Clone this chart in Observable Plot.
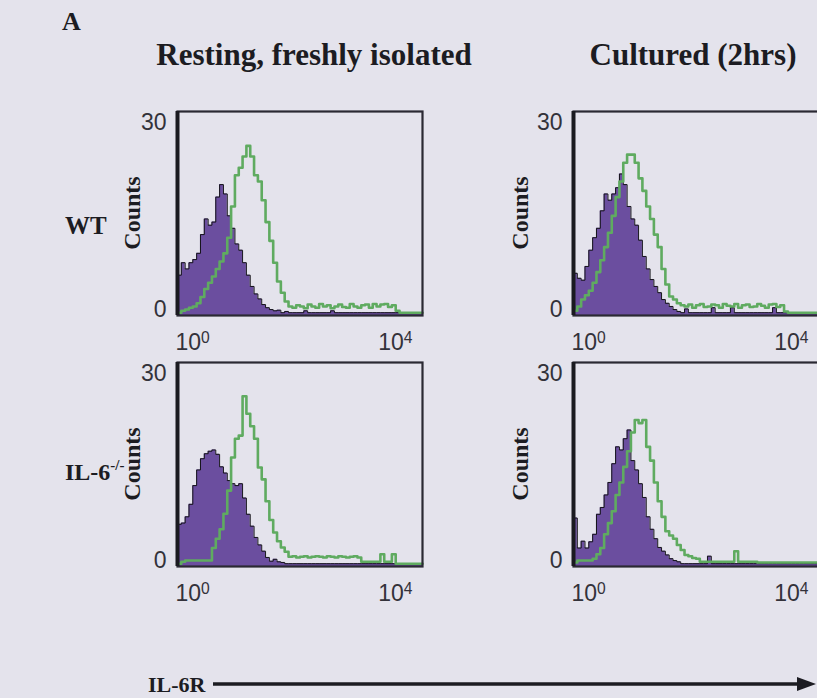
<!DOCTYPE html>
<html>
<head>
<meta charset="utf-8">
<script src="https://cdn.jsdelivr.net/npm/d3@7"></script>
<script src="https://cdn.jsdelivr.net/npm/@observablehq/plot@0.6"></script>
<style>
  body { margin: 0; background: #e4e3ec; }
  #chart { position: relative; width: 817px; height: 698px; overflow: hidden; background: #e4e3ec; }
  #chart .panel { position: absolute; }
  #overlay { position: absolute; left: 0; top: 0; pointer-events: none; }
  .serif { font-family: "Liberation Serif", "Times New Roman", serif; font-weight: bold; fill: #1c1c22; }
</style>
</head>
<body>
<div id="chart"></div>
<script>
// ---- data: counts per channel (64 channels over 4 log decades, 16 per decade) ----
const columnTitles = ["Resting, freshly isolated", "Cultured (2hrs)"];
const rowLabels = ["WT", "IL-6"];
const rowLabelSup = "-/-";
const yTicks = [0, 30];
const xTickValues = [1, 10000];
const xTickBase = "10";
const xTickExponents = ["0", "4"];

const wtRestIso = [
  6, 8, 7, 8, 8.5, 9.5, 12.5, 15, 14, 14.5, 18.5, 20.5, 19, 15.5, 13.5, 11,
  10, 8, 6, 4.2, 3, 2.2, 1.3, 0.8, 0.5, 0.3, 0.4, 0, 0.2, 0, 0, 0,
  0, 0.3, 0, 0, 0, 0, 0, 0, 0.3, 0, 0, 0, 0, 0, 0, 0,
  0, 0, 0, 0, 0, 0, 0, 0, 0, 0, 0, 0, 0, 0, 0, 0
];
const wtRestIL6R = [
  0, 0.3, 0.5, 0.8, 1, 1.5, 2.5, 3.8, 4.8, 5.8, 7, 8.2, 9.5, 12, 17, 22,
  23.2, 25, 26.7, 25, 22, 21, 18, 14.5, 11.5, 8, 5, 3.2, 1.8, 1, 0.8, 1.2,
  1, 0.7, 1.3, 1, 0.8, 1.4, 1, 1.2, 0.7, 1, 1.3, 0.9, 0.8, 1.4, 1, 0.8,
  1.2, 1.3, 0.8, 1.4, 1, 1.3, 1.4, 0.9, 1.2, 0.3, 0, 0, 0, 0, 0, 0
];
const wtCultIso = [
  6.3, 5.5, 5.2, 7.4, 10, 12, 13.5, 16.3, 19, 18, 19, 20, 22.2, 20.5, 17, 15,
  14, 11.6, 9, 7, 5.3, 4.2, 3.2, 2.1, 1.5, 1, 0.5, 0.2, 0, 0.6, 0, 0,
  0, 0, 0, 0, 0.8, 0, 0, 0, 0, 0.8, 0, 0, 0, 0, 0, 0,
  0, 0, 0, 0, 0.8, 0, 0, 0, 0, 0, 0, 0, 0, 0, 0, 0
];
const wtCultIL6R = [
  0.3, 1, 2.1, 2.8, 3.5, 4.8, 6.5, 8.4, 10.5, 12.8, 15.5, 18.5, 21, 24, 25.3, 25.3,
  24, 21.5, 19.5, 17, 15, 12.5, 10.5, 7, 4.5, 2.6, 2.1, 1.5, 1.2, 1, 1.3, 0.8,
  1.2, 1.4, 0.9, 1, 1.3, 1.2, 0.8, 1.4, 1.1, 1, 1.4, 0.8, 1.2, 1.3, 0.9, 1,
  1.4, 1.1, 0.8, 1.3, 1.4, 0.9, 1.2, 0.2, 0, 0, 0, 0, 0, 0, 0, 0
];
const koRestIso = [
  6.3, 6.5, 7.5, 9.5, 12.5, 15, 16.8, 17.6, 18, 18.2, 17.5, 15.5, 14.5, 13.3, 12.8, 12.5,
  12.8, 10.5, 7.9, 6, 4.2, 3, 2, 1, 0.4, 0.7, 0.3, 0.2, 0, 0, 0, 0,
  0, 0, 0, 0, 0, 0, 0, 0, 0, 0, 0, 0, 0, 0, 0, 0,
  0, 0, 0, 0, 0, 0, 0, 0, 0, 0, 0, 0, 0, 0, 0, 0
];
const koRestIL6R = [
  0, 0.3, 0.5, 0.5, 0.5, 0.5, 0.5, 0.5, 0.5, 2.5, 4, 5.5, 8, 11.7, 17, 20,
  20.5, 26.8, 24, 22, 20, 15.4, 13.5, 10, 7, 5, 3.6, 2.6, 1.9, 1.1, 1.2, 1,
  1.1, 1.2, 1, 1.1, 1.2, 1.1, 1, 1.2, 1.1, 1, 1.2, 1.1, 1, 1.1, 1.2, 1,
  0.3, 0.3, 0.3, 0.3, 0.3, 1.5, 0.3, 0.3, 1.5, 0, 0, 0, 0, 0, 0, 0
];
const koCultIso = [
  7.3, 2.5, 3.6, 2.5, 3.5, 4.7, 7.9, 9, 11, 13, 16, 18.7, 18.2, 20, 21.4, 16.5,
  15, 12.8, 10.6, 7.5, 5.5, 4, 2.6, 2, 1.4, 0.8, 0.5, 0.3, 0, 0, 0, 0,
  0, 0, 0, 1.2, 0, 0, 0, 0, 0, 0, 0, 0, 0, 0, 0, 0,
  0, 0, 0, 0, 0, 0, 0, 0, 0, 0, 0, 0, 0, 0, 0, 0
];
const koCultIL6R = [
  0.2, 0.5, 0.5, 0.5, 0.5, 0.8, 1.5, 2.5, 4.7, 6.5, 8.4, 11, 13, 15.5, 18, 21,
  23, 22.5, 23, 18.7, 16.5, 13, 10, 7.5, 5.2, 4.5, 4, 3, 2.2, 1.4, 1.2, 0.9,
  0.8, 0.3, 0.3, 0.3, 0.3, 0.3, 0.3, 0.3, 0.3, 0.3, 2, 0.3, 0.3, 0.3, 0.3, 0.3,
  0.2, 0.2, 0.2, 0.2, 0.2, 0.2, 0.2, 0.2, 0.2, 0.2, 0.2, 0.2, 0.2, 0.2, 0.2, 0.2
];

// ---- layout ----
const W = 245, H = 204;
const ML = 70, MR = 4, MT = 6, MB = 40;
const colLeft = [177, 573];
const rowTop = [111, 362];
const YMIN = -0.45, YMAX = 32.2;
const PURPLE = "#6b4e9f", GREEN = "#5fab60", INK = "#2a2933";

const chart = document.getElementById("chart");

function toPoints(counts) {
  const pts = counts.map((c, i) => ({x: Math.pow(10, i / 16), y: c}));
  pts.push({x: 10000, y: counts[counts.length - 1]});
  return pts;
}

function supTicks(svg) {
  svg.querySelectorAll("text").forEach(t => {
    const m = /^10\^(\d)$/.exec(t.textContent);
    if (!m) return;
    t.textContent = "";
    const b = document.createElementNS("http://www.w3.org/2000/svg", "tspan");
    b.textContent = xTickBase;
    const e = document.createElementNS("http://www.w3.org/2000/svg", "tspan");
    e.setAttribute("dy", "-0.42em");
    e.setAttribute("font-size", "0.68em");
    e.textContent = m[1];
    t.appendChild(b); t.appendChild(e);
  });
}

function panel(iso, stain, left, top) {
  const isoPts = toPoints(iso), stPts = toPoints(stain);
  const svg = Plot.plot({
    width: ML + W + MR, height: MT + H + MB,
    marginLeft: ML, marginRight: MR, marginTop: MT, marginBottom: MB,
    style: {background: "transparent", fontFamily: "'Liberation Sans', Arial, sans-serif", fontSize: "23px", color: "#33323a", overflow: "visible"},
    x: {type: "log", domain: [1, 10000]},
    y: {domain: [YMIN, YMAX]},
    marks: [
      Plot.areaY(isoPts, {x: "x", y1: YMIN, y2: "y", curve: "step-after", fill: PURPLE}),
      Plot.lineY(isoPts, {x: "x", y: "y", curve: "step-after", stroke: "#15141a", strokeWidth: 1}),
      Plot.lineY(stPts, {x: "x", y: "y", curve: "step-after", stroke: GREEN, strokeWidth: 2.6}),
      Plot.frame({stroke: INK, strokeWidth: 2.2}),
      Plot.ruleX([1], {stroke: "#1a1a20", strokeWidth: 4}),
      Plot.axisY({ticks: yTicks, tickSize: 0, tickPadding: 11, dy: -3, label: null, fontSize: 23}),
      Plot.axisX({ticks: [xTickValues[0]], tickFormat: () => xTickBase + "^" + xTickExponents[0], textAnchor: "start", tickSize: 0, tickPadding: 18, dx: -2, label: null, fontSize: 23}),
      Plot.axisX({ticks: [xTickValues[1]], tickFormat: () => xTickBase + "^" + xTickExponents[1], textAnchor: "end", tickSize: 0, tickPadding: 18, dx: -10, label: null, fontSize: 23})
    ]
  });
  supTicks(svg);
  svg.classList.add("panel");
  svg.style.left = (left - ML) + "px";
  svg.style.top = (top - MT) + "px";
  chart.appendChild(svg);
}

panel(wtRestIso, wtRestIL6R, colLeft[0], rowTop[0]);
panel(wtCultIso, wtCultIL6R, colLeft[1], rowTop[0]);
panel(koRestIso, koRestIL6R, colLeft[0], rowTop[1]);
panel(koCultIso, koCultIL6R, colLeft[1], rowTop[1]);

// ---- annotations ----
const ns = "http://www.w3.org/2000/svg";
const ov = document.createElementNS(ns, "svg");
ov.setAttribute("id", "overlay");
ov.setAttribute("width", 817);
ov.setAttribute("height", 698);
chart.appendChild(ov);

function txt(str, x, y, size, anchor, rotate) {
  const t = document.createElementNS(ns, "text");
  t.setAttribute("class", "serif");
  t.setAttribute("x", x);
  t.setAttribute("y", y);
  t.setAttribute("font-size", size);
  t.setAttribute("text-anchor", anchor || "start");
  if (rotate) t.setAttribute("transform", `rotate(${rotate},${x},${y})`);
  t.textContent = str;
  ov.appendChild(t);
  return t;
}

txt("A", 62, 30, 26);
txt(columnTitles[0], 314, 65, 31, "middle");
txt(columnTitles[1], 693, 65, 31, "middle");
txt(rowLabels[0], 65, 234, 25);
const ko = txt(rowLabels[1], 65, 480, 24);
const sup = document.createElementNS(ns, "tspan");
sup.setAttribute("dy", -10);
sup.setAttribute("font-size", 15);
sup.textContent = rowLabelSup;
ko.appendChild(sup);

// "Counts" y labels (baseline x given, text rotated)
[[colLeft[0] - 37, rowTop[0]], [colLeft[1] - 45, rowTop[0]], [colLeft[0] - 37, rowTop[1]], [colLeft[1] - 45, rowTop[1]]].forEach(([bx, top]) => {
  txt("Counts", bx, top + H / 2, 24, "middle", -90);
});

// IL-6R arrow
txt("IL-6R", 148, 692, 22);
const line = document.createElementNS(ns, "line");
line.setAttribute("x1", 213); line.setAttribute("x2", 802);
line.setAttribute("y1", 684); line.setAttribute("y2", 684);
line.setAttribute("stroke", "#1c1c22"); line.setAttribute("stroke-width", 3.5);
ov.appendChild(line);
const head = document.createElementNS(ns, "path");
head.setAttribute("d", "M797,677 L816,684 L797,691 Z");
head.setAttribute("fill", "#1c1c22");
ov.appendChild(head);
</script>
</body>
</html>
